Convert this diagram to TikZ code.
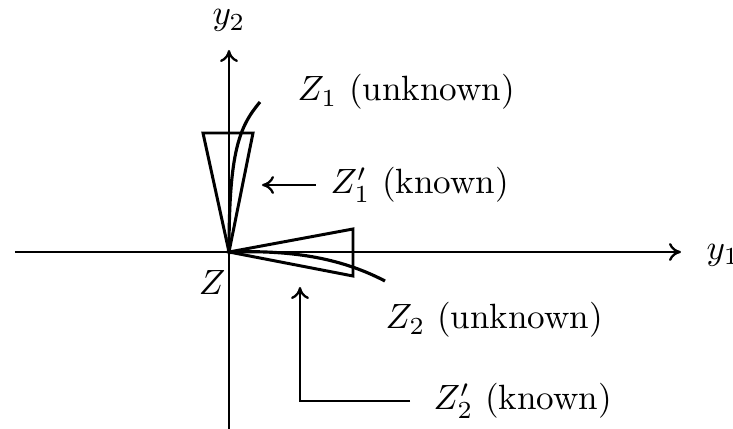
\documentclass[tikz,border=0pt]{standalone}
\usepackage{tikz}
\usetikzlibrary{arrows.meta, positioning}
\tikzstyle{axisline} = [-{To[length=1.2mm, width=1.8mm]}, line width=0.65pt]
\tikzstyle{cone} = [line width=0.85pt, line join=miter]
\tikzstyle{path} = [line width=0.9pt]
\tikzstyle{pointer} = [-{To[length=1.2mm, width=1.8mm]}, line width=0.65pt]
\tikzstyle{note} = [inner sep=0pt]

\begin{document}
\begin{tikzpicture}[x=0.285pt, y=0.285pt]
    \useasboundingbox (-229,-177) rectangle (504,252);
    \coordinate (Z) at (0,0);
    % axes
    \coordinate (xstart) at (-214,0);
    \coordinate (xend) at (452,0);
    \coordinate (ystart) at (0,-177);
    \coordinate (yend) at (0,202);
    \draw[axisline] (xstart) -- (xend);
    \draw[axisline] (ystart) -- (yend);
    \node (yone) [note, anchor=west] at (477,-3) {$y_1$};
    \node (ytwo) [note, anchor=base] at (0,227) {$y_2$};
    \node (zlabel) [note] at (-17,-31) {$Z$};
    % cones and curves
    \draw[cone] (Z) -- (-26,119) -- (24,119) -- cycle;
    \draw[cone] (Z) -- (124,23) -- (124,-24) -- cycle;
    \draw[path] (Z) .. controls (0,100) and (10,125) .. (31,150);
    \draw[path] (Z) .. controls (60,2) and (110,-5) .. (156,-29);
    % labels
    \node (zone) [note, anchor=west] at (68,160) {$Z_1$ (unknown)};
    \node (knownone) [note, anchor=west] at (101,67) {$Z_1'$ (known)};
    \node (ztwo) [note, anchor=west] at (156,-68) {$Z_2$ (unknown)};
    \node (knowntwo) [note, anchor=west] at (204,-149) {$Z_2'$ (known)};
    \coordinate (tipone) at (33,67);
    \coordinate (tiptwo) at (71,-35);
    \draw[pointer] ([xshift=-4pt]knownone.west) -- (tipone);
    \draw[pointer] ([xshift=-6.5pt]knowntwo.west) -| (tiptwo);
\end{tikzpicture}
\end{document}
